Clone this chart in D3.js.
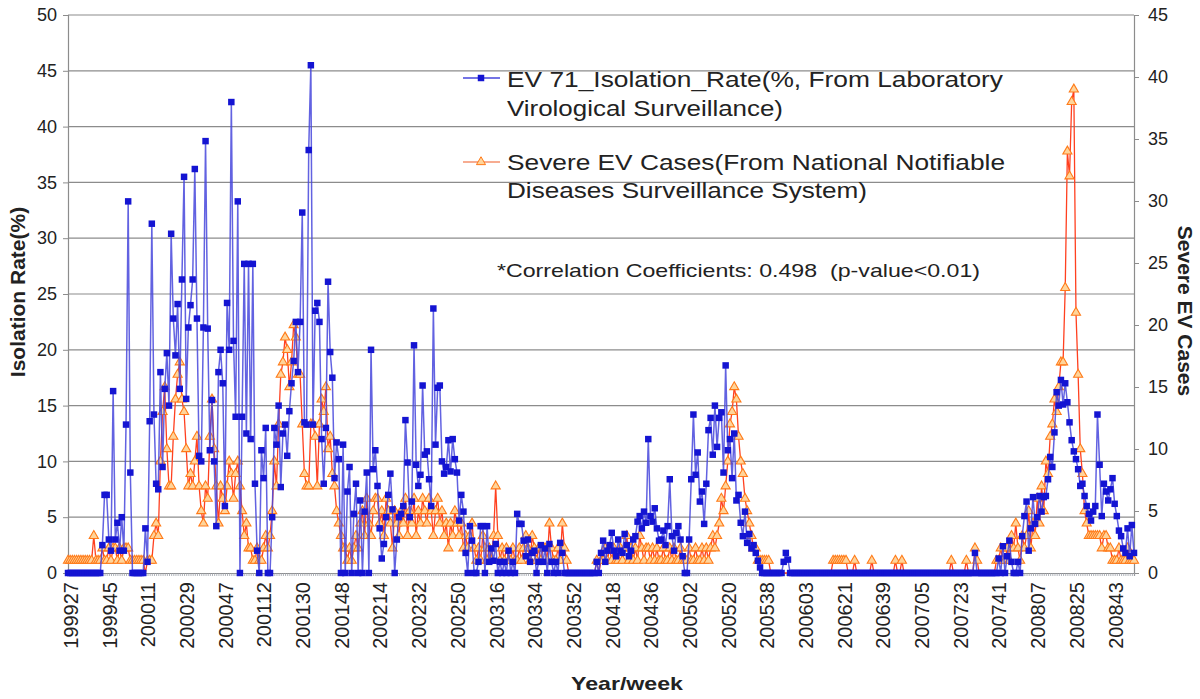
<!DOCTYPE html>
<html><head><meta charset="utf-8">
<script src="https://cdn.jsdelivr.net/npm/d3@7"></script>
<style>html,body{margin:0;padding:0;background:#fff;} svg{display:block;font-family:"Liberation Sans",Arial,sans-serif;}</style>
</head><body><svg id="chart" width="1200" height="699"></svg>
<script>
// ---- data ----
const startYear = 1999, startWeek = 27;
const weeksInYear = {1999:52,2000:53,2001:52,2002:52,2003:52,2004:52,2005:53,2006:52,2007:52,2008:53};
const tickLabels = ["199927","199945","200011","200029","200047","200112","200130","200148","200214","200232","200250","200316","200334","200352","200418","200436","200502","200520","200538","200603","200621","200639","200705","200723","200741","200807","200825","200843"];
const leftTicks = [0,5,10,15,20,25,30,35,40,45,50];
const rightTicks = [0,5,10,15,20,25,30,35,40,45];
const legendLabels = ["EV 71_Isolation_Rate(%, From Laboratory","Virological Surveillance)","Severe EV Cases(From National Notifiable","Diseases Surveillance System)"];
const noteText = "*Correlation Coefficients: 0.498  (p-value<0.01)";

const isolationRate = [
0,0,0,0,0,0,0,0,0,0,0,0,0,0,0,0,2.5,7,
7,3,2,16.3,3,4.5,2,5,2,13.3,33.3,9,0,0,0,0,0,0,
4,1,13.6,31.3,14.2,8,7.5,18,9.5,16.5,19.7,15,30.4,22.8,19.5,24.1,16.5,26.3,
35.5,15.6,22,24,26.3,36.2,22.8,10.5,10,22,38.7,21.9,11,15.5,10,4.2,18,20,
17,6,24.2,20,42.2,20.8,14,33.3,0,14,27.7,12.5,27.7,12,27.7,8,2,0,
11,8.5,13,0,0,5,13,11.5,15,7.7,12.5,13.3,10.5,14.5,17,19,22.5,18,
22.5,32.3,13.5,13.3,37.9,45.5,13.3,23.5,24.2,22.5,12,8,13,26.1,19.8,17.5,8.5,11.7,
10.2,0,11.5,0,7.3,9.5,0,5.3,8,0,6.5,0,5.5,9,0,20,9.3,11,
7.8,4,1.3,2.6,5,7,8.9,5.7,0,3,5,5.3,6,13.7,9.9,5,6.4,20.4,
9.7,7.8,8.8,16.8,10.6,10.9,8.4,6,23.7,11.5,16.6,16.8,10,8.9,9.5,11.9,9.1,12,
10.2,9,4.7,7,5.5,1.8,0,4.2,2.9,0,0,1,4.2,4.2,0,4.2,1,2.2,
1.1,2.6,0,1,0,1,0,2,0,1,0,5.3,4.4,4.4,2.9,1.5,3,1,
1.8,2,0,1,2.5,1,2.2,0,2.6,1,0,1,0,2.7,1.8,0,0,0,
0,0,0,0,0,0,0,0,0,0,0,0,1,0,1.8,2.9,1,2,
2.5,3.6,2,1.5,3,2,1.8,3.5,2.5,1.5,2,3,3.3,4.6,5.1,4,5.5,4.5,
12,5.1,4.6,5.8,4,2.9,3,3.8,2.5,4.2,8.4,3.3,2,3.6,4.2,3,1.5,0,
0,3,8.4,14.2,8.8,10.8,6.4,7.3,4.4,8,12.8,13.9,10.6,15,11.3,13.9,14.4,9,
18.6,11,12,8.5,12.5,6.5,7,4.5,3.3,5.5,2.7,3.5,2.2,2.5,1.8,1.1,0.5,0,
0,0,0,0,0,0,0,0,0,1,1.8,1.2,0,0,0,0,0,0,
0,0,0,0,0,0,0,0,0,0,0,0,0,0,0,0,0,0,
0,0,0,0,0,0,0,0,0,0,0,0,0,0,0,0,0,0,
0,0,0,0,0,0,0,0,0,0,0,0,0,0,0,0,0,0,
0,0,0,0,0,0,0,0,0,0,0,0,0,0,0,0,0,0,
0,0,0,0,0,0,0,0,1.8,0,0,0,0,0,0,0,0,0,
0,1.3,0,2.4,0,1.5,2.9,1,0,0,1,0,3.3,5.1,6.4,2,4,6.8,
4.4,5,6.9,5.5,6.8,6.9,8.4,10.4,9.5,12.6,16.2,15,17.3,15.1,17,15.3,13.5,11.9,
10.9,10.2,9.3,7.8,8,6.9,6,5.3,4.7,5.5,6,14.2,9.7,5.1,8,7.3,6.5,7.5,
8.5,6.2,5.1,3.8,3.3,2.2,1.8,4,1.5,4.3,1.8
];

const severeCases = [
1,1,1,1,1,1,1,1,1,1,1,1,3,1,1,1,2,1,
1,2,1,2,2,1,2,1,2,2,2,1,1,1,1,1,1,1,
0,1,1,1,3,4,3,9,13,15,10,7,7,11,14,16,17,14,
13,10,7,8,7,9,11,7,5,4,7,6,11,14,10,7,4,7,
6,5,7,9,8,6,8,9,7,5,3,4,2,2,1,1,2,1,
1,2,3,2,3,5,9,7,12,16,17,19,18,15,17,20,19,16,
16,12,8,7,7,12,12,11,7,12,14,13,15,10,11,8,7,5,
4,3,2,2,1,2,1,2,3,2,4,5,3,6,4,3,5,6,
6,4,5,3,6,5,4,2,5,4,3,5,4,6,3,5,4,6,
3,5,4,6,5,4,6,5,3,5,6,4,5,3,4,2,4,3,
5,4,3,4,2,3,2,3,4,2,1,2,1,3,2,1,2,1,
3,7,3,1,2,1,2,1,1,2,1,1,2,1,2,3,2,1,
3,2,1,2,1,2,2,1,4,2,1,1,2,1,4,2,1,0,
0,0,0,0,0,0,0,0,0,0,0,0,1,0,1,1,2,1,
2,1,2,1,1,2,1,2,3,1,2,1,2,1,3,2,1,2,
2,1,2,1,2,1,1,2,1,1,2,1,2,1,1,2,1,1,
1,2,1,1,2,1,1,2,1,2,1,2,3,2,3,4,6,5,
7,9,12,13,15,14,11,9,8,6,5,4,3,2,2,1,1,1,
1,1,1,0,0,0,0,0,0,0,0,0,0,0,0,0,0,0,
0,0,0,0,0,0,0,0,0,0,0,0,0,0,1,1,1,1,
1,1,1,0,0,0,1,0,0,0,0,0,0,0,1,0,0,0,
0,0,0,0,0,0,0,1,0,0,1,0,0,0,0,0,0,0,
0,0,0,0,0,0,0,0,0,0,0,0,0,0,0,1,0,0,
0,0,0,0,1,0,0,0,2,1,0,0,0,0,0,0,0,0,
1,1,2,1,1,2,1,3,2,4,2,1,3,2,3,5,2,4,
3,6,4,7,5,9,8,11,12,14,13,15,17,17,23,34,32,38,
39,21,16,10,8,5,4,3,3,3,3,3,3,2,3,3,2,2,
1,1,1,2,1,1,1,2,1,1,1
];

// category labels (year + week) for each data point
const weeks = [];
{ let yr = startYear, wk = startWeek;
  for (let i = 0; i < isolationRate.length; i++) {
    weeks.push(String(yr) + String(wk).padStart(2, "0"));
    wk++; if (wk > weeksInYear[yr]) { yr++; wk = 1; }
  } }

// ---- layout ----
const L = 68, R = 1134, T = 15, B = 573;
const svg = d3.select("#chart");
const x = d3.scalePoint().domain(weeks).range([L, R]).padding(0);
const yL = d3.scaleLinear().domain([0, 50]).range([B, T]);
const yR = d3.scaleLinear().domain([0, 45]).range([B, T]);

const gridColor = "#8c8c8c";
const blue = "#1414d2", blueLine = "#4646dc";
const orLine = "#ff4020", orMark = "#ff7a18", orFill = "#ffd49a";

// gridlines
svg.append("g").selectAll("line").data(leftTicks.filter(d => d > 0)).join("line")
  .attr("x1", L).attr("x2", R).attr("y1", d => yL(d)).attr("y2", d => yL(d))
  .attr("stroke", gridColor).attr("stroke-width", 1.2);

// left axis
const axL = svg.append("g").attr("transform", `translate(${L},0)`)
  .call(d3.axisLeft(yL).tickValues(leftTicks).tickSize(5).tickPadding(6));
axL.select(".domain").attr("stroke", gridColor).attr("stroke-width", 1.2);
axL.selectAll(".tick line").attr("stroke", gridColor);
axL.selectAll("text").attr("font-size", 18).attr("fill", "#222").attr("font-family", "Liberation Sans, Arial, sans-serif");

// right axis
const axR = svg.append("g").attr("transform", `translate(${R},0)`)
  .call(d3.axisRight(yR).tickValues(rightTicks).tickSize(5).tickPadding(9));
axR.select(".domain").attr("stroke", gridColor).attr("stroke-width", 1.2);
axR.selectAll(".tick line").attr("stroke", gridColor);
axR.selectAll("text").attr("font-size", 18).attr("fill", "#222").attr("font-family", "Liberation Sans, Arial, sans-serif");

// bottom axis
const axB = svg.append("g").attr("transform", `translate(0,${B})`)
  .call(d3.axisBottom(x).tickValues(weeks).tickSize(3).tickFormat(""));
axB.select(".domain").attr("stroke", gridColor).attr("stroke-width", 1.2);
axB.selectAll(".tick line").attr("stroke", "#9aa0a8").attr("stroke-width", 0.8);

// x tick labels
svg.append("g").selectAll("text").data(tickLabels).join("text")
  .attr("transform", d => `translate(${x(d) + 3},582) rotate(-90)`)
  .attr("text-anchor", "end").attr("dy", "0.35em")
  .attr("font-size", 20).attr("fill", "#222").text(d => d);

// series: orange (right axis)
const lineR = d3.line().x((d, i) => x(weeks[i])).y(d => yR(d));
const lineL = d3.line().x((d, i) => x(weeks[i])).y(d => yL(d));
svg.append("path").datum(severeCases).attr("d", lineR)
  .attr("fill", "none").attr("stroke", orLine).attr("stroke-width", 1.3);
const tri = d3.symbol().type(d3.symbolTriangle).size(36);
svg.append("g").selectAll("path")
  .data(severeCases.map((v, i) => ({v, w: weeks[i]})).filter(d => d.v > 0)).join("path")
  .attr("transform", d => `translate(${x(d.w)},${yR(d.v)})`)
  .attr("d", tri).attr("fill", orFill).attr("stroke", orMark).attr("stroke-width", 1.1);

// series: blue (left axis)
svg.append("path").datum(isolationRate).attr("d", lineL)
  .attr("fill", "none").attr("stroke", blueLine).attr("stroke-width", 1.5).attr("stroke-opacity", 0.85);
const sq = d3.symbol().type(d3.symbolSquare).size(42);
svg.append("g").selectAll("path").data(isolationRate).join("path")
  .attr("transform", (d, i) => `translate(${x(weeks[i])},${yL(d)})`)
  .attr("d", sq).attr("fill", blue);

// legend
const lg = svg.append("g");
lg.append("line").attr("x1", 463).attr("x2", 500).attr("y1", 78).attr("y2", 78).attr("stroke", blueLine).attr("stroke-width", 1.5);
lg.append("path").attr("transform", "translate(481,78)").attr("d", sq).attr("fill", blue);
lg.append("line").attr("x1", 463).attr("x2", 500).attr("y1", 162).attr("y2", 162).attr("stroke", "#f4906c").attr("stroke-width", 1.5);
lg.append("path").attr("transform", "translate(481,162)").attr("d", tri).attr("fill", orFill).attr("stroke", orMark);

function stretchText(g, str, xx, yy, size, width, weight) {
  const t = g.append("text").attr("x", xx).attr("y", yy).attr("font-size", size)
    .attr("fill", "#222").attr("font-weight", weight || "normal")
    .style("white-space", "pre").attr("xml:space", "preserve").text(str);
  t.attr("textLength", width).attr("lengthAdjust", "spacingAndGlyphs");
  return t;
}
stretchText(lg, legendLabels[0], 507, 87, 22, 496);
stretchText(lg, legendLabels[1], 507, 116, 22, 276);
stretchText(lg, legendLabels[2], 507, 170, 22, 498);
stretchText(lg, legendLabels[3], 507, 198, 22, 360);
stretchText(lg, noteText, 497, 277, 19, 483);

// axis titles
stretchText(svg, "Year/week", 571, 690, 19, 112, "bold");
svg.append("text").attr("transform", "translate(25,292) rotate(-90)").attr("text-anchor", "middle")
  .attr("font-size", 21).attr("font-weight", "bold").attr("fill", "#222").text("Isolation Rate(%)");
svg.append("text").attr("transform", "translate(1178,311) rotate(90)").attr("text-anchor", "middle")
  .attr("font-size", 21).attr("font-weight", "bold").attr("fill", "#222").text("Severe EV Cases");
</script></body></html>
